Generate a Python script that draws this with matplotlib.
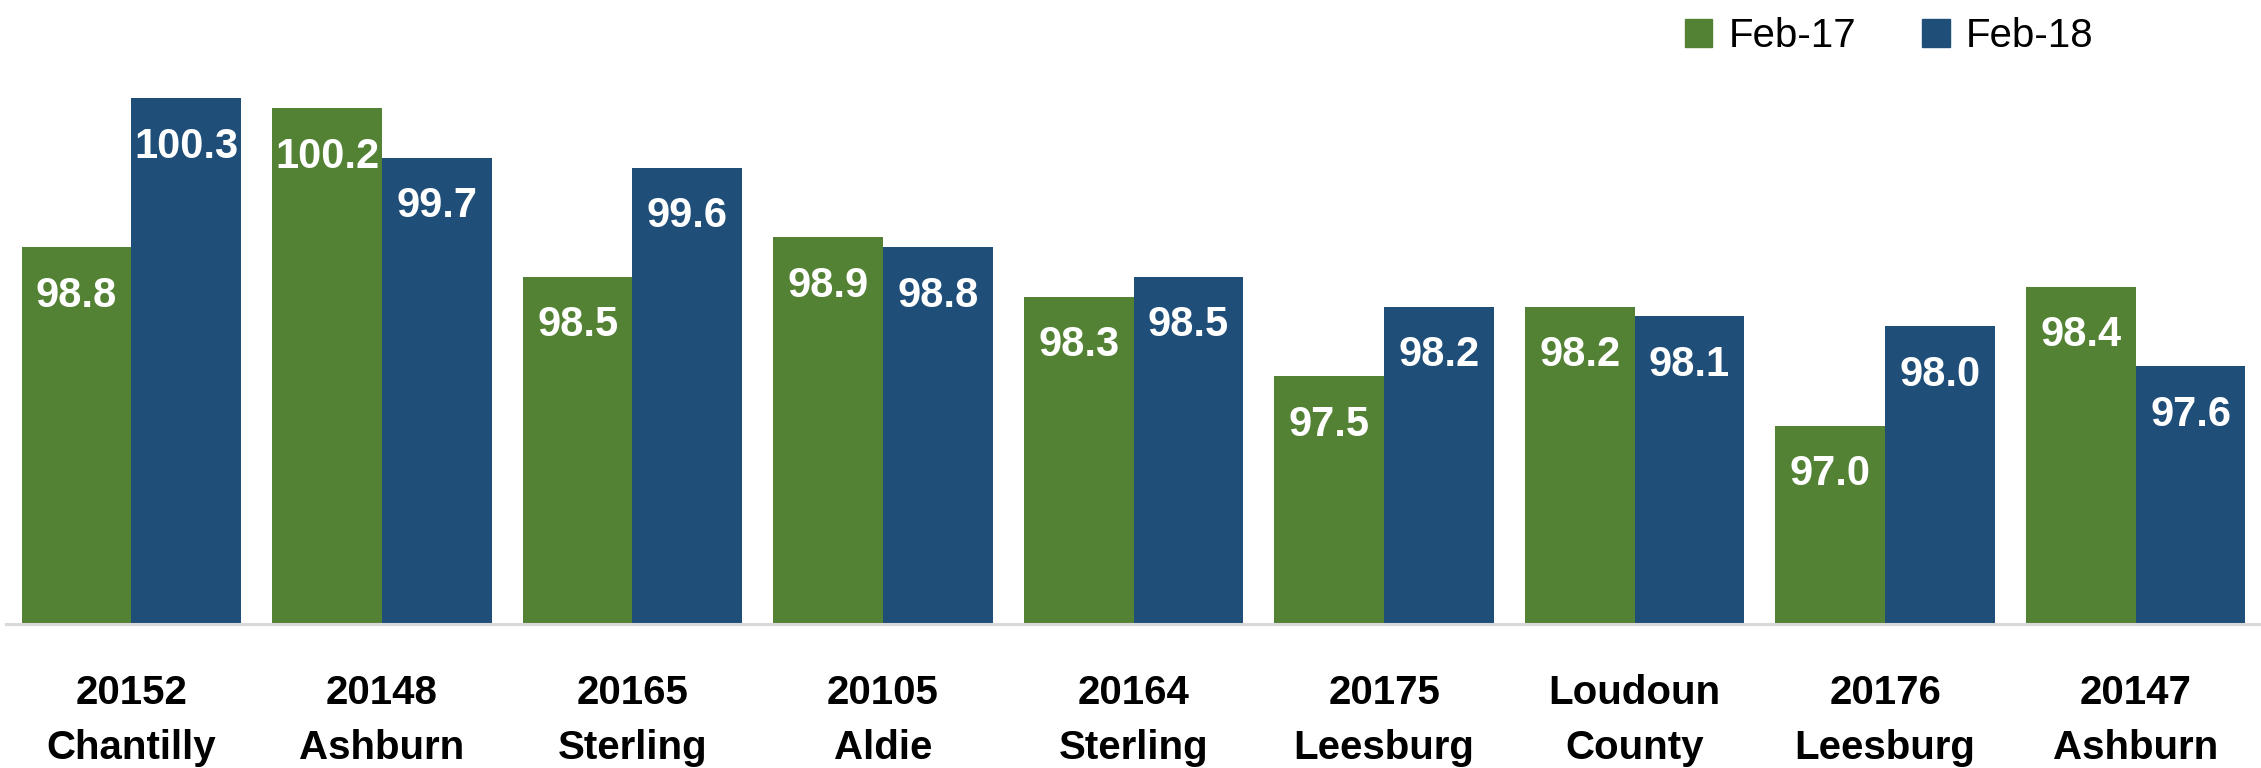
import matplotlib
matplotlib.use("Agg")
import matplotlib.pyplot as plt
import numpy as np
from matplotlib.patches import Patch

categories = ["20152\nChantilly", "20148\nAshburn", "20165\nSterling", "20105\nAldie",
              "20164\nSterling", "20175\nLeesburg", "Loudoun\nCounty", "20176\nLeesburg",
              "20147\nAshburn"]
feb17 = [98.8, 100.2, 98.5, 98.9, 98.3, 97.5, 98.2, 97.0, 98.4]
feb18 = [100.3, 99.7, 99.6, 98.8, 98.5, 98.2, 98.1, 98.0, 97.6]
series_names = ["Feb-17", "Feb-18"]

green = "#548235"
blue = "#1F4E79"

plt.rcParams['font.family'] = ['Liberation Sans', 'DejaVu Sans']

fig = plt.figure(figsize=(22.61, 7.68), dpi=100)
ax = fig.add_axes([0.0027, 0.1875, 0.9973, 0.8125])

x = np.arange(len(categories))
w = 0.438
b1 = ax.bar(x - w / 2, feb17, width=w, color=green)
b2 = ax.bar(x + w / 2, feb18, width=w, color=blue)

ax.set_ylim(95, 101.29)
ax.set_xlim(-0.5, 8.5)

for bars, vals in ((b1, feb17), (b2, feb18)):
    for rect, v in zip(bars, vals):
        ax.annotate(f"{v:.1f}", (rect.get_x() + rect.get_width() / 2, v),
                    xytext=(0, -35), textcoords="offset points",
                    ha="center", va="center", color="white",
                    fontsize=30, fontweight="bold")

for s in ("top", "right", "left"):
    ax.spines[s].set_visible(False)
ax.spines["bottom"].set_color("#d9d9d9")
ax.spines["bottom"].set_linewidth(2.2)
ax.set_yticks([])
ax.set_xticks(x)
ax.set_xticklabels(categories, fontsize=29, fontweight="bold", linespacing=1.58)
ax.tick_params(axis="x", length=0, pad=36)

handles = [Patch(color=green), Patch(color=blue)]
fig.legend(handles, series_names, loc="upper right", bbox_to_anchor=(0.942, 1.025),
           ncol=2, frameon=False, fontsize=29, handlelength=0.68, handleheight=0.68,
           handletextpad=0.4, columnspacing=1.65)

fig.savefig("out.png", dpi=100)
